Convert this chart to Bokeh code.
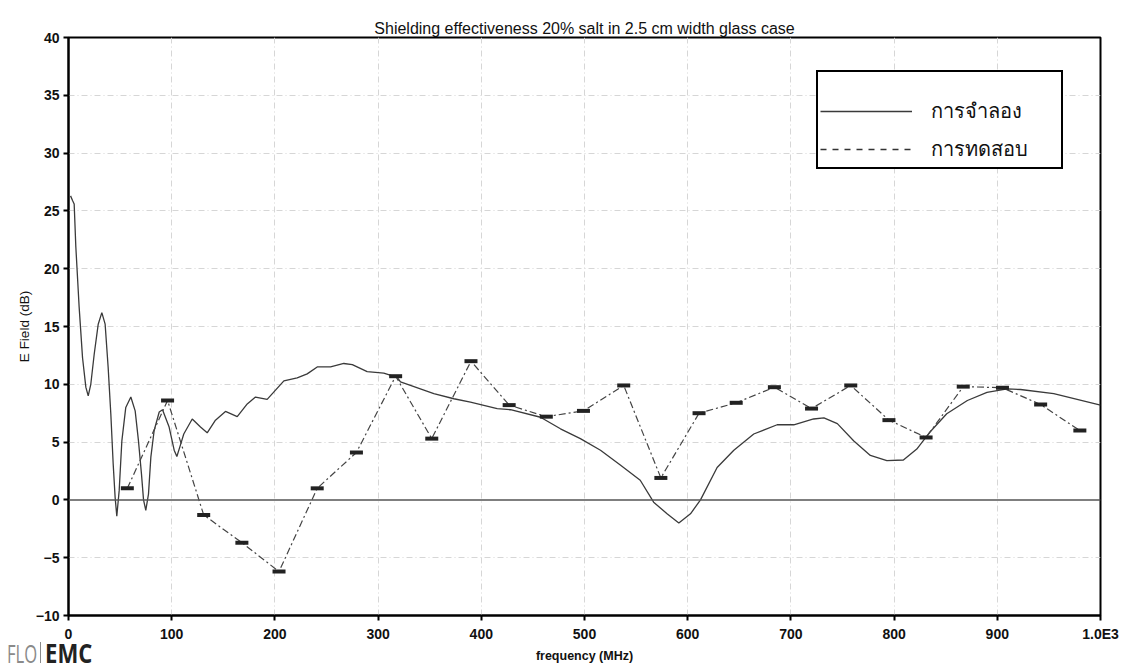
from bokeh.plotting import figure
from bokeh.models import FixedTicker, Span, Legend, LegendItem, Div
from bokeh.layouts import column
from bokeh.embed import file_html
from bokeh.resources import INLINE

# ---------------- data ----------------
sim_freq = [2, 3.9, 5.5, 7.1, 10.3, 13.6, 16.8, 19.1, 21.6, 24.9, 28.8, 32.3, 35.5, 38.4, 41,
            43.3, 45.2, 46.8, 49.1, 51.7, 55.5, 60.4, 64.6, 67.8, 70.7, 72.7, 74.9, 77.5, 79.8,
            83, 87.9, 91.1, 97.5, 102.4, 105, 108.8, 111.7, 119.9, 127.9, 134.4, 142.4, 152.1,
            163.5, 173.2, 181.2, 192.5, 200.6, 208.7, 221.6, 231.3, 241, 253.9, 266.8, 275,
            289.4, 305.5, 318.5, 321.7, 354, 373.4, 389.5, 415.4, 428.3,
            457.4, 476.7, 496, 515.5, 535, 554, 567, 580, 591.4, 602.7, 612.4, 628.5, 644.7, 664,
            686.7, 702.8, 722, 732, 745, 761, 777, 793, 809, 822, 835, 851, 871, 890, 909.6,
            922.5, 954.7, 1000]
sim_db = [26.3, 25.9, 25.6, 21.9, 16.7, 12.3, 9.75, 9.0, 10.0, 12.6, 15.2, 16.2, 15.2, 11.5, 7.45,
          3.1, 0.2, -1.4, 0.8, 5.1, 8.0, 8.9, 7.7, 5.1, 2.25, 0.0, -0.9, 0.5, 3.7,
          6.0, 7.6, 7.8, 6.3, 4.3, 3.75, 4.85, 5.7, 7.0, 6.3, 5.8, 6.9, 7.65,
          7.2, 8.3, 8.9, 8.7, 9.5, 10.3, 10.55, 10.9, 11.5, 11.5, 11.8, 11.7,
          11.1, 10.96, 10.6, 10.2, 9.2, 8.75, 8.45, 7.9, 7.8,
          7.15, 6.15, 5.3, 4.3, 3.0, 1.7, -0.2, -1.2, -2.0, -1.2, 0.0, 2.8, 4.3, 5.7,
          6.5, 6.5, 7.0, 7.1, 6.6, 5.1, 3.85, 3.4, 3.45, 4.4, 5.9, 7.45, 8.6, 9.3, 9.6,
          9.55, 9.2, 8.2]

meas_freq = [57, 96, 131, 168, 204, 241, 279, 317, 352, 390, 427, 463, 499, 538, 574, 611,
             647, 684, 720, 758, 795, 831, 867, 905, 942, 980]
meas_db = [1.0, 8.6, -1.3, -3.7, -6.2, 1.0, 4.1, 10.7, 5.3, 12.0, 8.2, 7.2, 7.7, 9.9, 1.9, 7.5,
           8.4, 9.75, 7.9, 9.9, 6.9, 5.4, 9.8, 9.7, 8.25, 6.0]

x_ticks = [0, 100, 200, 300, 400, 500, 600, 700, 800, 900, 1000]
x_tick_labels = ["0", "100", "200", "300", "400", "500", "600", "700", "800", "900", "1.0E3"]
y_ticks = [-10, -5, 0, 5, 10, 15, 20, 25, 30, 35, 40]

title_text = "Shielding effectiveness 20% salt in 2.5 cm width glass case"
legend_labels = ["การจำลอง", "การทดสอบ"]
logo_parts = ["FLO", "EMC"]

FONT = "Liberation Sans"

p = figure(width=1119, height=666, output_backend="svg", toolbar_location=None,
           x_range=(0, 1000), y_range=(-10, 40), title=title_text,
           min_border_left=68, min_border_right=19, min_border_top=37, min_border_bottom=51)
p.background_fill_color = "white"
p.border_fill_color = "white"
p.outline_line_color = "black"
p.outline_line_width = 2

p.title.align = "center"
p.title.text_font = FONT
p.title.text_font_size = "16px"
p.title.text_font_style = "normal"
p.title.text_color = "#111"
p.title.standoff = 2

# axes
for ax in (p.xaxis, p.yaxis):
    ax.axis_line_width = 2
    ax.axis_line_color = "black"
    ax.major_tick_line_width = 2
    ax.major_tick_line_color = "black"
    ax.major_tick_out = 5
    ax.major_tick_in = 0
    ax.minor_tick_line_color = None
    ax.major_label_text_font = FONT
    ax.major_label_text_font_size = "14px"
    ax.major_label_text_font_style = "bold"
    ax.major_label_text_color = "#111"
    ax.axis_label_text_font = FONT
    ax.axis_label_text_color = "#111"

p.xaxis.ticker = FixedTicker(ticks=x_ticks)
p.xaxis.major_label_overrides = {t: l for t, l in zip(x_ticks, x_tick_labels)}
p.xaxis.axis_label = "frequency (MHz)"
p.xaxis.axis_label_text_font_size = "12.5px"
p.xaxis.axis_label_text_font_style = "bold"
p.xaxis.axis_label_standoff = 4
p.xaxis.major_label_standoff = 5

p.yaxis.ticker = FixedTicker(ticks=y_ticks)
p.yaxis.axis_label = "E Field (dB)"
p.yaxis.axis_label_text_font_size = "13.5px"
p.yaxis.axis_label_text_font_style = "normal"
p.yaxis.axis_label_standoff = 1
p.yaxis.major_label_standoff = 4

# grid
p.xgrid.ticker = FixedTicker(ticks=x_ticks[1:-1])
p.ygrid.ticker = FixedTicker(ticks=[t for t in y_ticks if t not in (-10, 0, 40)])
for g in (p.xgrid, p.ygrid):
    g.grid_line_color = "#d6d6d6"
    g.grid_line_dash = "6 3 1 3"
    g.grid_line_width = 1

zero = Span(location=0, dimension="width", line_color="#555", line_width=1.5)
p.add_layout(zero)

# series
sim = p.line(sim_freq, sim_db, line_color="#3a3a3a", line_width=1.3)
meas_line = p.line(meas_freq, meas_db, line_color="#444", line_width=1.2, line_dash="7 3 2 3")
p.scatter(meas_freq, meas_db, marker="dash", size=13, line_width=4, line_color="#222")

nan = float("nan")
legend_dash = p.line([nan, nan], [nan, nan], line_color="#333", line_width=1.3, line_dash="6 6")

legend = Legend(items=[LegendItem(label=legend_labels[0], renderers=[sim]),
                       LegendItem(label=legend_labels[1], renderers=[legend_dash])],
                location=(748, 446),
                title=" ", title_text_font_size="15px", title_standoff=4,
                glyph_width=92, glyph_height=20, label_height=20, label_width=128,
                label_standoff=19, padding=2, spacing=6, margin=0,
                border_line_color="black", border_line_width=2, border_line_alpha=1.0,
                background_fill_alpha=1.0, label_text_baseline="alphabetic",
                label_text_font="Noto Sans", label_text_font_size="20px", label_text_color="#111")
p.add_layout(legend, "center")

# logo (HTML overlay in the bottom-left corner)
logo_html = (
    '<div style="position:relative;width:100px;height:30px;">'
    '<span style="position:absolute;left:7px;top:4px;font-family:\'Open Sans\';font-size:26px;'
    'line-height:26px;color:#8a8a8a;transform:scaleX(0.64);transform-origin:0 0;white-space:nowrap;">'
    + logo_parts[0] + '</span>'
    '<span style="position:absolute;left:40px;top:6px;width:1px;height:21px;background:#8a8a8a;"></span>'
    '<span style="position:absolute;left:45px;top:4px;font-family:\'Open Sans\';font-size:26px;'
    'line-height:26px;font-weight:bold;color:#222;transform:scaleX(0.85);transform-origin:0 0;'
    'white-space:nowrap;">' + logo_parts[1] + '</span></div>'
)
logo = Div(text=logo_html, width=100, height=30, margin=(-30, 0, 0, 0),
           styles={"position": "relative", "z-index": "5"})

layout = column(p, logo, spacing=0)

open("out.html", "w").write(file_html(layout, INLINE))
